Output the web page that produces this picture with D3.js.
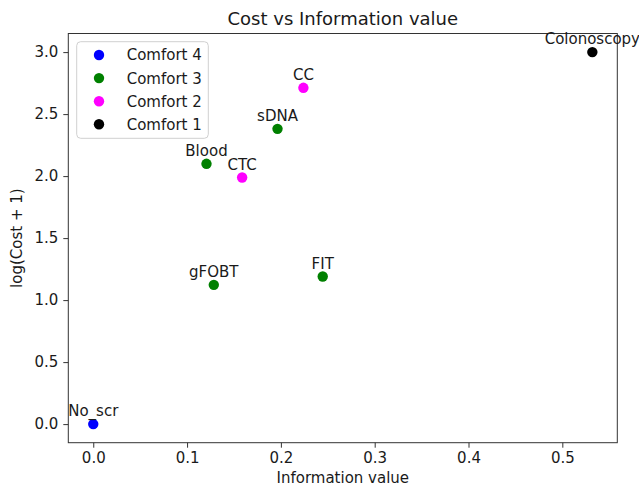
<!DOCTYPE html>
<html>
<head>
<meta charset="utf-8">
<script src="https://cdn.jsdelivr.net/npm/d3@7"></script>
<style>
  html, body { margin: 0; padding: 0; background: #fff; }
  svg { display: block; font-family: "DejaVu Sans", sans-serif; }
</style>
</head>
<body>
<svg id="chart" width="639" height="487"></svg>
<script>
// ---- data ----
const labels = ["No_scr", "gFOBT", "FIT", "Blood", "CTC", "sDNA", "CC", "Colonoscopy"];
const infoValues = [0, 0.1285, 0.2446, 0.1207, 0.1587, 0.1964, 0.224, 0.532];
const logCost = [0, 1.123, 1.19, 2.099, 1.989, 2.381, 2.712, 3.0];
const comfort = [4, 3, 3, 3, 2, 3, 2, 1];
const legendLevels = [4, 3, 2, 1];
const legendLabels = ["Comfort 4", "Comfort 3", "Comfort 2", "Comfort 1"];
const levelColors = ["blue", "green", "magenta", "black"];
const xTicks = [0, 0.1, 0.2, 0.3, 0.4, 0.5];
const yTicks = [0, 0.5, 1.0, 1.5, 2.0, 2.5, 3.0];
const titleText = "Cost vs Information value";
const xLabelText = "Information value";
const yLabelText = "log(Cost + 1)";

// ---- layout ----
const svg = d3.select("#chart");
const pLeft = 68.3, pRight = 617.3, pTop = 33.5, pBottom = 442.7;
const textColor = "#1a1a1a";
const fs = 15;

function padded(vals) {
  const mn = d3.min(vals), mx = d3.max(vals), r = mx - mn;
  return [mn - 0.05 * r, mx + 0.05 * r];
}
const x = d3.scaleLinear().domain(padded(infoValues)).range([pLeft, pRight]);
const y = d3.scaleLinear().domain(padded(logCost)).range([pBottom, pTop]);
const color = d3.scaleOrdinal().domain(legendLevels).range(levelColors);

const data = labels.map((l, i) => ({ label: l, x: infoValues[i], y: logCost[i], c: comfort[i] }));

// axes
const xAxis = svg.append("g")
  .attr("transform", `translate(0,${pBottom})`)
  .call(d3.axisBottom(x).tickValues(xTicks).tickFormat(d3.format(".1f")).tickSize(5).tickPadding(5).tickSizeOuter(0));
const yAxis = svg.append("g")
  .attr("transform", `translate(${pLeft},0)`)
  .call(d3.axisLeft(y).tickValues(yTicks).tickFormat(d3.format(".1f")).tickSize(5).tickPadding(5).tickSizeOuter(0));
[xAxis, yAxis].forEach(g => {
  g.select(".domain").remove();
  g.selectAll(".tick line").attr("stroke", "#333").attr("stroke-width", 1);
  g.selectAll(".tick text").attr("fill", textColor).style("font-size", fs + "px")
    .style("font-family", "'DejaVu Sans', sans-serif");
});

// frame
svg.append("rect")
  .attr("x", pLeft).attr("y", pTop)
  .attr("width", pRight - pLeft).attr("height", pBottom - pTop)
  .attr("fill", "none").attr("stroke", "#333").attr("stroke-width", 1);

// points
svg.append("g").selectAll("circle").data(data).join("circle")
  .attr("cx", d => x(d.x)).attr("cy", d => y(d.y)).attr("r", 5.2)
  .attr("fill", d => color(d.c));

// annotations
svg.append("g").selectAll("text").data(data).join("text")
  .attr("x", d => x(d.x)).attr("y", d => y(d.y) - 7.8)
  .attr("text-anchor", "middle")
  .attr("fill", textColor).style("font-size", fs + "px")
  .text(d => d.label);

// title & labels
svg.append("text").attr("x", (pLeft + pRight) / 2).attr("y", 25)
  .attr("text-anchor", "middle").attr("fill", textColor).style("font-size", "18px")
  .text(titleText);
svg.append("text").attr("x", (pLeft + pRight) / 2).attr("y", 483)
  .attr("text-anchor", "middle").attr("fill", textColor).style("font-size", fs + "px")
  .text(xLabelText);
svg.append("text")
  .attr("transform", `translate(22,${(pTop + pBottom) / 2}) rotate(-90)`)
  .attr("text-anchor", "middle").attr("fill", textColor).style("font-size", fs + "px")
  .text(yLabelText);

// legend
const lg = svg.append("g");
lg.append("rect")
  .attr("x", 76.7).attr("y", 41.7).attr("width", 131.6).attr("height", 96.6)
  .attr("rx", 4).attr("ry", 4)
  .attr("fill", "white").attr("fill-opacity", 0.8)
  .attr("stroke", "#d0d0d0").attr("stroke-width", 1);
const rows = lg.selectAll("g.row").data(legendLevels).join("g")
  .attr("transform", (d, i) => `translate(0,${55 + i * 23.1})`);
rows.append("circle").attr("cx", 99).attr("cy", 0).attr("r", 5.2).attr("fill", d => color(d));
rows.append("text").attr("x", 126.7).attr("y", 0).attr("dy", "0.36em")
  .attr("fill", textColor).style("font-size", fs + "px")
  .text((d, i) => legendLabels[i]);
</script>
</body>
</html>
